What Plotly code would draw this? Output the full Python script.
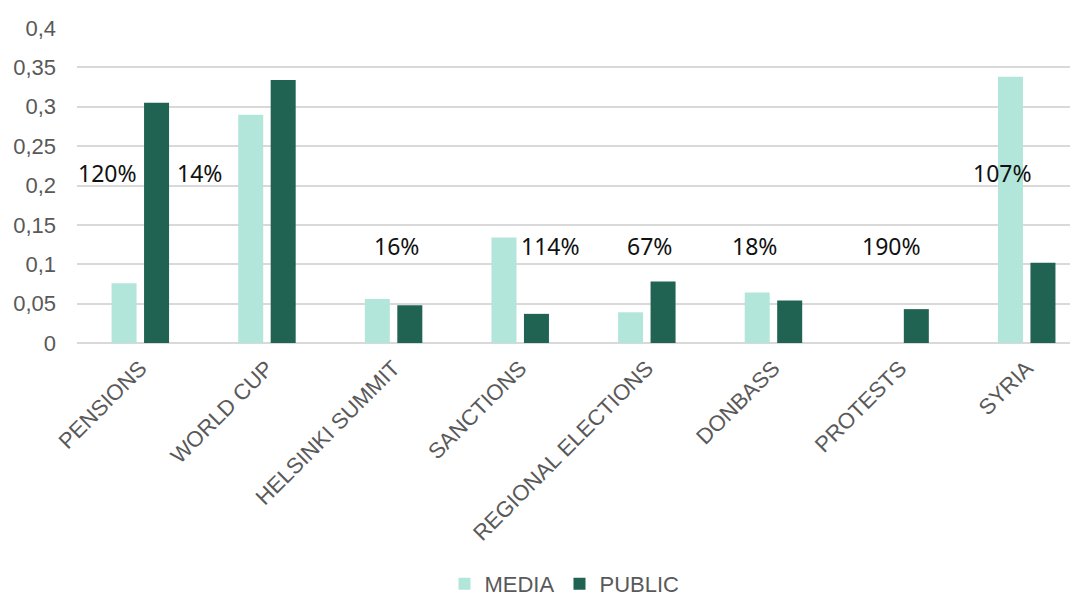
import plotly.graph_objects as go

categories = ["PENSIONS", "WORLD CUP", "HELSINKI SUMMIT", "SANCTIONS",
              "REGIONAL ELECTIONS", "DONBASS", "PROTESTS", "SYRIA"]
media = [0.076, 0.290, 0.056, 0.134, 0.039, 0.064, 0.0, 0.338]
public = [0.305, 0.334, 0.048, 0.037, 0.078, 0.054, 0.043, 0.102]
change_labels = ["120%", "14%", "16%", "114%", "67%", "18%", "190%", "107%"]

# label positions (category index, y value)
label_x = [-0.26, 0.465, 2.02, 3.24, 4.02, 4.85, 5.93, 6.81]
label_y = [0.216, 0.216, 0.123, 0.123, 0.123, 0.123, 0.123, 0.216]

tick_font = dict(family="Arial, Liberation Sans", size=22, color="#595959")

fig = go.Figure()
fig.add_trace(go.Bar(x=categories, y=media, name="MEDIA",
                     marker=dict(color="#b3e6da", line=dict(width=0))))
fig.add_trace(go.Bar(x=categories, y=public, name="PUBLIC",
                     marker=dict(color="#216352", line=dict(width=0))))

for txt, lx, ly in zip(change_labels, label_x, label_y):
    fig.add_annotation(x=lx, y=ly, xref="x", yref="y", text=txt,
                       showarrow=False,
                       font=dict(family="Noto Sans", size=23, color="#111111"))

# page body has an 8px margin, so the figure is 8px smaller each way
fig.update_layout(
    width=1070, height=590,
    margin=dict(l=69, r=0, t=20, b=255),
    plot_bgcolor="white", paper_bgcolor="white",
    separators=",.",
    barmode="group", bargap=0.487, bargroupgap=0.23,
    showlegend=True,
    legend=dict(orientation="h", x=0.487, xanchor="center",
                y=0.024, yanchor="middle", yref="container",
                font=tick_font, itemwidth=30),
)
fig.update_xaxes(range=[-0.5, 7.405], tickangle=-45, tickfont=tick_font,
                 showgrid=False, showline=False, ticks="",
                 ticklabelstandoff=7)
fig.update_yaxes(range=[0, 0.4], dtick=0.05, tickfont=tick_font,
                 showgrid=True, gridcolor="#d9d9d9", gridwidth=1.5,
                 zeroline=True, zerolinecolor="#d9d9d9", zerolinewidth=1.5,
                 showline=False, ticklabelstandoff=20)

fig.write_html("out.html")
